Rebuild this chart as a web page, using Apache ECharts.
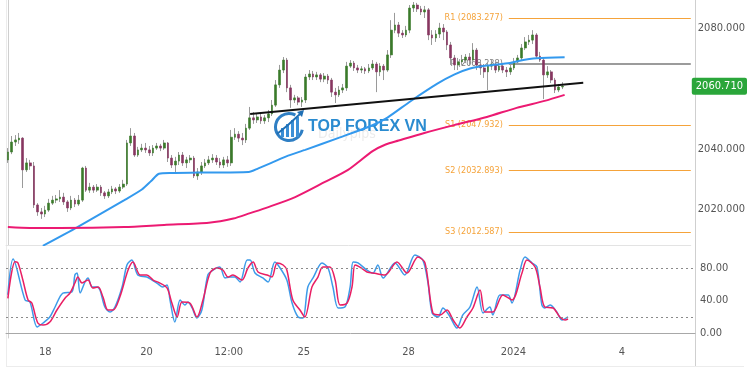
<!DOCTYPE html>
<html><head><meta charset="utf-8">
<script src="https://cdn.jsdelivr.net/npm/echarts@6/dist/echarts.min.js"></script>
<style>html,body{margin:0;padding:0;background:#fff}#c{width:750px;height:375px}</style>
</head><body><div id="c"></div>
<script>
// ---------- data ----------
const slotCount = 184;               // hourly slots shown on the time axis (incl. empty future)
const xTickIdx  = [10, 37, 59, 79, 107, 135, 164];
const xTickText = ['18', '20', '12:00', '25', '28', '2024', '4'];
const priceTicks = [2020, 2040, 2080];
const stochTicks = [0, 40, 80];
const stochLevels = [20, 80];
const lastPrice = 2060.71;

// [open, close, low, high]
const candles = [
[2036.4,2039.0,2035.4,2040.3],[2039.0,2042.3,2038.3,2044.3],[2042.3,2043.0,2041.0,2044.6],[2043.0,2043.6,2041.7,2045.3],
[2043.6,2033.1,2027.1,2043.9],[2033.1,2035.4,2032.4,2037.0],[2035.4,2034.4,2033.1,2036.4],[2034.4,2021.5,2020.5,2035.7],
[2021.5,2019.2,2017.9,2022.1],[2019.2,2018.5,2016.9,2020.5],[2018.5,2019.8,2017.5,2021.2],[2019.8,2022.1,2019.2,2023.5],
[2022.1,2023.1,2021.5,2024.5],[2023.1,2023.5,2022.1,2024.8],[2023.5,2024.1,2022.5,2026.4],[2024.1,2022.5,2021.5,2025.5],
[2022.5,2020.5,2019.2,2023.1],[2020.5,2023.1,2019.8,2024.5],[2023.1,2021.8,2020.8,2023.8],[2021.8,2023.1,2021.2,2024.8],
[2023.1,2033.7,2022.5,2034.1],[2033.7,2026.4,2025.8,2034.4],[2026.4,2027.4,2025.5,2028.8],[2027.4,2026.4,2025.5,2028.1],
[2026.4,2027.4,2025.8,2028.4],[2027.4,2025.5,2024.5,2028.1],[2025.5,2024.5,2023.5,2026.1],[2024.5,2025.8,2023.8,2026.8],
[2025.8,2026.8,2025.1,2027.8],[2026.8,2026.1,2025.1,2027.4],[2026.1,2027.4,2025.5,2028.4],[2027.4,2028.4,2026.8,2029.8],
[2028.4,2042.0,2027.8,2043.0],[2042.0,2044.3,2041.0,2046.9],[2044.3,2038.0,2037.4,2045.3],[2038.0,2039.7,2037.4,2040.7],
[2039.7,2040.3,2039.0,2041.7],[2040.3,2039.7,2038.7,2042.0],[2039.7,2038.7,2037.7,2041.0],[2038.7,2040.3,2037.7,2041.3],
[2040.3,2041.0,2039.7,2042.0],[2041.0,2040.3,2039.3,2041.7],[2040.3,2042.0,2039.7,2043.0],[2042.0,2037.0,2035.7,2042.3],
[2037.0,2034.7,2033.7,2038.0],[2034.7,2036.0,2032.4,2037.4],[2036.0,2038.0,2034.7,2039.0],[2038.0,2035.4,2034.4,2039.0],
[2035.4,2036.4,2033.7,2037.4],[2036.4,2037.0,2035.4,2038.0],[2037.0,2031.1,2030.4,2037.7],[2031.1,2032.4,2029.8,2033.7],
[2032.4,2034.4,2031.4,2035.7],[2034.4,2035.4,2033.7,2036.7],[2035.4,2036.4,2034.7,2037.7],[2036.4,2037.0,2035.4,2038.3],
[2037.0,2035.7,2034.7,2038.0],[2035.7,2034.7,2033.7,2037.0],[2034.7,2036.4,2033.7,2037.4],[2036.4,2035.4,2034.1,2037.7],
[2035.4,2043.9,2034.4,2046.3],[2043.9,2044.9,2043.0,2046.9],[2044.9,2043.6,2042.3,2045.9],[2043.6,2043.0,2041.3,2045.3],
[2043.0,2046.9,2042.0,2048.3],[2046.9,2050.3,2046.3,2053.9],[2050.3,2049.6,2048.3,2052.2],[2049.6,2050.6,2048.6,2051.9],
[2050.6,2049.3,2048.3,2051.6],[2049.3,2050.3,2048.3,2051.2],[2050.3,2051.6,2048.9,2052.9],[2051.6,2054.5,2050.9,2056.2],
[2054.5,2061.2,2053.9,2062.8],[2061.2,2066.1,2060.2,2067.8],[2066.1,2069.4,2065.1,2070.4],[2069.4,2060.2,2058.8,2070.1],
[2060.2,2056.2,2053.6,2061.2],[2056.2,2056.9,2055.2,2057.9],[2056.9,2055.5,2054.5,2057.5],[2055.5,2056.2,2053.9,2057.2],
[2056.2,2063.8,2055.2,2064.8],[2063.8,2064.8,2062.8,2066.1],[2064.8,2063.8,2062.8,2065.8],[2063.8,2064.5,2062.8,2065.5],
[2064.5,2063.1,2062.1,2065.1],[2063.1,2064.1,2062.1,2065.1],[2064.1,2062.8,2061.5,2064.8],[2062.8,2058.8,2057.2,2063.5],
[2058.8,2057.9,2055.2,2060.2],[2057.9,2059.5,2057.2,2060.8],[2059.5,2060.2,2058.5,2061.5],[2060.2,2067.4,2059.2,2068.8],
[2067.4,2068.4,2066.8,2069.4],[2068.4,2066.8,2065.8,2069.1],[2066.8,2066.1,2065.1,2067.8],[2066.1,2066.5,2065.1,2067.4],
[2066.5,2065.8,2064.8,2067.1],[2065.8,2066.8,2065.1,2068.1],[2066.8,2068.1,2066.1,2069.4],[2068.1,2065.5,2058.8,2068.8],
[2065.5,2067.4,2064.1,2068.4],[2067.4,2066.1,2062.8,2068.1],[2066.1,2071.1,2065.5,2072.7],[2071.1,2079.3,2070.1,2082.6],
[2079.3,2081.0,2078.3,2085.0],[2081.0,2078.3,2077.0,2082.0],[2078.3,2077.7,2076.7,2079.3],[2077.7,2079.3,2077.0,2080.7],
[2079.3,2086.6,2078.3,2087.6],[2086.6,2087.6,2085.3,2088.6],[2087.6,2086.3,2085.3,2088.3],[2086.3,2085.3,2084.3,2087.3],
[2085.3,2086.0,2083.3,2087.3],[2086.0,2077.7,2076.0,2086.6],[2077.7,2076.7,2074.4,2079.3],[2076.7,2078.0,2075.4,2079.3],
[2078.0,2080.0,2076.7,2081.7],[2080.0,2078.7,2076.0,2081.3],[2078.7,2074.4,2072.7,2079.3],[2074.4,2070.1,2067.8,2075.4],
[2070.1,2067.8,2066.1,2071.1],[2067.8,2068.8,2066.1,2070.1],[2068.8,2069.4,2067.8,2071.1],[2069.4,2070.4,2068.4,2071.4],
[2070.4,2069.4,2067.8,2071.7],[2069.4,2072.7,2068.8,2075.0],[2072.7,2067.8,2066.1,2073.4],[2067.8,2066.8,2064.5,2068.8],
[2066.8,2065.5,2063.5,2068.1],[2065.5,2067.4,2059.5,2068.8],[2067.4,2068.1,2066.1,2069.4],[2068.1,2066.1,2065.1,2068.8],
[2066.1,2067.4,2065.5,2068.8],[2067.4,2066.1,2065.1,2068.4],[2066.1,2065.5,2063.8,2067.1],[2065.5,2066.8,2064.5,2067.8],
[2066.8,2068.8,2066.1,2070.1],[2068.8,2070.1,2067.8,2071.1],[2070.1,2073.4,2069.4,2074.7],[2073.4,2075.4,2072.7,2077.0],
[2075.4,2076.0,2074.4,2077.7],[2076.0,2077.7,2074.7,2079.3],[2077.7,2070.7,2070.1,2078.3],[2070.7,2069.4,2068.8,2072.1],
[2069.4,2064.5,2056.5,2070.1],[2064.5,2065.5,2063.5,2067.4],[2065.5,2062.8,2061.8,2066.1],[2062.8,2059.5,2058.5,2063.5],
[2059.5,2060.5,2058.8,2061.5],[2060.5,2060.71,2059.8,2062.1]
];

// moving averages [slot, value]
const ma100 = [[9.4,2008.0],[18.7,2014.2],[31.3,2023.1],[36.0,2026.6],[38.5,2029.4],[40.6,2031.8],[44.0,2032.1],[51.3,2032.2],
[64.7,2032.4],[67.3,2033.6],[70.8,2035.4],[75.3,2037.8],[79.9,2039.7],[88.7,2043.6],[97.5,2047.6],[102.0,2050.4],
[108.2,2055.8],[115.4,2061.6],[119.9,2064.6],[124.2,2066.6],[128.7,2067.6],[134.9,2068.4],[137.5,2069.2],[142.1,2070.0],[149.6,2070.3]];
const ma200 = [[0,2014.2],[5.9,2013.9],[13.9,2013.9],[31.3,2014.2],[42.0,2014.9],[54.0,2015.6],[60.6,2017.0],[65.1,2018.8],
[70.0,2020.8],[77.2,2024.1],[85.2,2029.1],[91.4,2033.1],[98.0,2039.3],[101.5,2041.5],[105.0,2042.8],[111.9,2045.3],[119.9,2047.9],
[128.7,2050.6],[136.7,2053.6],[144.2,2055.9],[149.6,2057.9]];

const trendLine = [[65.1,2051.6],[154.6,2061.9]];
const pivotNames  = ['R1','P','S1','S2','S3'];
const pivotValues = [2083.277, 2068.238, 2047.932, 2032.893, 2012.587];
const pivotStart = 134.6;

// stochastic [slot, value]
const stochK = [[0,47.0],[1.4,91.1],[4.6,40.6],[5.9,38.2],[7.8,7.4],[9.4,12.3],[11.2,19.7],[12.6,32.0],[14.7,49.2],[17.1,50.5],
[17.9,71.4],[18.5,73.8],[19.3,49.2],[20.6,62.8],[21.4,67.7],[22.5,56.6],[23.8,56.6],[24.6,52.9],[25.9,32.0],[27.3,25.8],
[28.6,32.0],[30.5,56.6],[31.8,83.7],[33.1,89.8],[34.7,71.4],[37.1,68.9],[38.5,65.2],[39.8,61.5],[41.4,56.6],[42.5,59.1],
[43.3,40.6],[44.6,13.5],[46.0,40.6],[47.3,34.5],[48.1,38.2],[49.2,30.8],[50.5,18.5],[51.8,28.3],[53.4,71.4],[54.8,77.5],
[56.6,81.2],[58.0,67.7],[59.3,68.9],[60.6,68.9],[62.0,62.8],[63.9,89.8],[64.7,89.8],[66.0,73.8],[68.1,67.7],[69.5,62.8],
[71.3,87.4],[72.7,80.0],[74.5,65.2],[75.9,36.9],[77.5,19.7],[78.8,18.5],[80.1,56.6],[81.5,67.7],[83.9,86.2],[85.5,80.0],
[86.8,56.6],[88.2,30.8],[90.0,32.0],[91.4,56.6],[92.2,87.4],[93.5,86.2],[95.9,77.5],[97.5,73.8],[98.8,83.7],[100.2,67.7],
[103.4,86.2],[106.0,71.4],[108.7,96.0],[110.8,89.8],[112.2,61.5],[113.3,24.6],[114.9,19.7],[116.2,30.8],[118.1,19.7],
[119.9,6.2],[121.5,22.2],[123.4,32.0],[125.3,56.6],[126.9,24.6],[128.7,32.0],[129.5,22.2],[131.4,46.8],[133.6,46.8],
[134.6,36.9],[136.8,77.5],[138.1,93.5],[140.0,86.2],[141.3,81.2],[142.6,34.5],[143.4,30.8],[144.8,34.5],[146.6,25.8],
[148.0,16.0],[149.6,19.7]];
const stochD = [[0,42.7],[1.9,87.8],[2.7,86.2],[4.0,65.2],[5.4,40.6],[6.4,36.9],[8.0,12.3],[9.4,9.8],[11.2,13.5],[13.1,28.3],
[15.3,43.1],[16.6,49.2],[17.9,61.5],[18.7,68.9],[19.8,61.5],[21.4,65.2],[22.7,55.4],[24.1,56.6],[25.4,44.3],[26.7,28.3],
[28.1,28.3],[29.9,44.3],[32.1,77.5],[33.4,87.4],[35.3,71.4],[37.1,71.4],[38.8,65.2],[40.6,61.5],[42.5,55.4],[43.8,36.9],
[45.2,19.7],[46.5,38.2],[48.6,36.9],[50.5,19.7],[52.1,40.6],[54.0,73.8],[55.8,80.0],[57.4,77.5],[58.8,68.9],[60.1,71.4],
[62.5,65.2],[64.1,80.0],[65.5,87.4],[66.8,75.1],[69.2,71.4],[70.5,68.9],[71.9,86.2],[73.5,83.7],[74.5,77.5],[76.1,40.6],
[78.0,28.3],[79.3,19.7],[81.2,56.6],[82.8,68.9],[84.1,81.2],[86.0,81.2],[87.4,65.2],[88.7,34.5],[90.6,36.9],[91.9,56.6],
[92.7,83.7],[94.0,81.2],[95.9,75.1],[98.0,73.4],[100.7,71.4],[103.9,87.4],[106.6,73.8],[109.5,93.5],[111.4,86.2],
[113.5,24.6],[115.4,22.2],[117.3,28.3],[118.9,16.0],[120.7,6.2],[122.6,19.7],[124.2,30.8],[126.1,52.9],[127.4,25.8],
[129.5,25.8],[132.2,46.8],[134.6,40.6],[137.3,73.8],[138.6,89.8],[140.8,81.2],[142.1,56.6],[143.4,32.0],[145.6,30.8],
[147.4,19.7],[148.8,16.0],[149.6,17.2]];

// ---------- chart ----------
const FONT = "'Liberation Sans Narrow','DejaVu Sans Condensed','Liberation Sans',sans-serif";
const slots = Array.from({length: slotCount}, (_, i) => String(i));
const tickMap = {};
xTickIdx.forEach((v, i) => tickMap[v] = xTickText[i]);
const bodies = candles.map(c => [c[0], c[1], Math.min(c[0], c[1]), Math.max(c[0], c[1])]);
const orange = '#f5a33a';

const pivotLines = pivotValues.map((v, i) => {
  const col = pivotNames[i] === 'P' ? '#7a7a7a' : orange;
  return [
    {name: pivotNames[i], coord: [pivotStart, v],
     lineStyle: {color: col, width: pivotNames[i] === 'P' ? 1.6 : 1.2, type: 'solid'},
     label: {show: true, position: 'start', distance: 6, color: col, fontSize: 9, fontFamily: FONT,
             formatter: pivotNames[i] + ' (' + v.toFixed(3) + ')'}},
    {coord: [slotCount - 0.5, v]}
  ];
});

const chart = echarts.init(document.getElementById('c'), null, {renderer: 'canvas'});
chart.setOption({
  animation: false,
  backgroundColor: '#fff',
  grid: [
    {left: 6, right: 55, top: 0, height: 245},
    {left: 6, right: 55, top: 250, height: 88}
  ],
  xAxis: [
    {type: 'category', gridIndex: 0, data: slots, boundaryGap: true, show: false},
    {type: 'value', gridIndex: 0, min: -0.5, max: slotCount - 0.5, position: 'bottom',
     axisLine: {show: true, lineStyle: {color: '#e3e3e3'}}, axisTick: {show: false}, axisLabel: {show: false}, splitLine: {show: false}},
    {type: 'value', gridIndex: 1, min: -0.5, max: slotCount - 0.5,
     axisLine: {show: true, lineStyle: {color: '#a8a8a8', width: 1}}, axisTick: {show: false}, splitLine: {show: false},
     axisLabel: {customValues: xTickIdx, formatter: v => tickMap[v] || '', color: '#555', fontSize: 11, fontFamily: FONT, margin: 9}}
  ],
  yAxis: [
    {type: 'value', gridIndex: 0, position: 'right', min: 2008.26, max: 2089.26, scale: true,
     axisLine: {show: true, lineStyle: {color: '#cfcfcf'}}, axisTick: {show: false}, splitLine: {show: false},
     axisLabel: {customValues: priceTicks, formatter: v => v.toFixed(3), color: '#555', fontSize: 11, fontFamily: FONT, margin: 7}},
    {type: 'value', gridIndex: 0, position: 'right', min: 2008.26, max: 2089.26, scale: true,
     axisLine: {show: false}, axisTick: {show: false}, splitLine: {show: false},
     axisLabel: {customValues: [lastPrice], formatter: v => v.toFixed(3), color: '#fff', fontSize: 11, fontFamily: FONT,
                 backgroundColor: '#2aa63a', padding: [3, 4, 3, 4], borderRadius: 2, margin: 1}},
    {type: 'value', gridIndex: 1, position: 'right', min: -6.15, max: 102.15,
     axisLine: {show: true, lineStyle: {color: '#cfcfcf'}}, axisTick: {show: false}, splitLine: {show: false},
     axisLabel: {customValues: stochTicks, formatter: v => v.toFixed(2), color: '#555', fontSize: 11, fontFamily: FONT, margin: 5}}
  ],
  graphic: [
    {type: 'line', silent: true, z: -1, shape: {x1: 695.5, y1: 0, x2: 695.5, y2: 367}, style: {stroke: '#cfcfcf', lineWidth: 1}},
    {type: 'line', silent: true, z: -1, shape: {x1: 6.5, y1: 0, x2: 6.5, y2: 367}, style: {stroke: '#ececec', lineWidth: 1}},
    {type: 'line', silent: true, z: -1, shape: {x1: 6, y1: 366.5, x2: 744, y2: 366.5}, style: {stroke: '#ececec', lineWidth: 1}},
    {type: 'text', silent: true, z: -2, left: 318, top: 127, style: {text: 'Dailypips', fill: '#ececec', font: '14px ' + FONT}},
    {type: 'group', silent: true, z: 1, left: 273, top: 110, children: [
      {type: 'arc', shape: {cx: 15, cy: 15, r: 13.5, startAngle: 0.2, endAngle: 5.2}, style: {stroke: '#2f7fc4', lineWidth: 3, fill: null}},
      {type: 'rect', shape: {x: 7, y: 16, width: 3, height: 9}, style: {fill: '#3b8fd6'}},
      {type: 'rect', shape: {x: 12, y: 12, width: 3, height: 13}, style: {fill: '#3b8fd6'}},
      {type: 'rect', shape: {x: 17, y: 8, width: 3, height: 17}, style: {fill: '#3b8fd6'}},
      {type: 'rect', shape: {x: 22, y: 5, width: 3, height: 20}, style: {fill: '#3b8fd6'}},
      {type: 'polyline', shape: {points: [[3, 22], [14, 13], [26, 2]]}, style: {stroke: '#1f6fb5', lineWidth: 2, fill: null}},
      {type: 'polygon', shape: {points: [[23, 0], [30, -2], [28, 5]]}, style: {fill: '#1f6fb5'}}
    ]},
    {type: 'text', silent: true, z: 1, left: 308, top: 119,
     style: {text: 'TOP FOREX VN', fill: '#2a8bd0', font: 'bold 16px "Liberation Sans", Arial, sans-serif'}}
  ],
  series: [
    {type: 'candlestick', name: 'wick', xAxisIndex: 0, yAxisIndex: 0, data: candles, barWidth: 1,
     itemStyle: {color: '#9a9a9a', color0: '#9a9a9a', borderColor: '#9a9a9a', borderColor0: '#9a9a9a', borderWidth: 1}},
    {type: 'candlestick', name: 'body', xAxisIndex: 0, yAxisIndex: 0, data: bodies, barWidth: 2.2,
     itemStyle: {color: '#3a7a2a', color0: '#873660', borderColor: '#3a7a2a', borderColor0: '#873660', borderWidth: 0.6}},
    {type: 'line', name: 'MA100', xAxisIndex: 1, yAxisIndex: 0, data: ma100, symbol: 'none', smooth: 0.25,
     lineStyle: {color: '#3399ee', width: 2}, z: 3},
    {type: 'line', name: 'MA200', xAxisIndex: 1, yAxisIndex: 0, data: ma200, symbol: 'none', smooth: 0.25,
     lineStyle: {color: '#ec1a72', width: 2}, z: 3},
    {type: 'line', name: 'trend', xAxisIndex: 1, yAxisIndex: 0, data: trendLine, symbol: 'none',
     lineStyle: {color: '#111', width: 2}, z: 4,
     markLine: {silent: true, symbol: ['none', 'none'], data: pivotLines, z: 2}},
    {type: 'line', name: '%K', xAxisIndex: 2, yAxisIndex: 2, data: stochK, symbol: 'none', smooth: 0.3,
     lineStyle: {color: '#3d9be9', width: 1.5}},
    {type: 'line', name: '%D', xAxisIndex: 2, yAxisIndex: 2, data: stochD, symbol: 'none', smooth: 0.3,
     lineStyle: {color: '#e91e63', width: 1.5},
     markLine: {silent: true, symbol: ['none', 'none'], label: {show: false},
                lineStyle: {color: '#8a8a8a', width: 1, type: [2, 3]},
                data: stochLevels.map(v => ({yAxis: v}))}}
  ]
});
</script>
</body></html>
